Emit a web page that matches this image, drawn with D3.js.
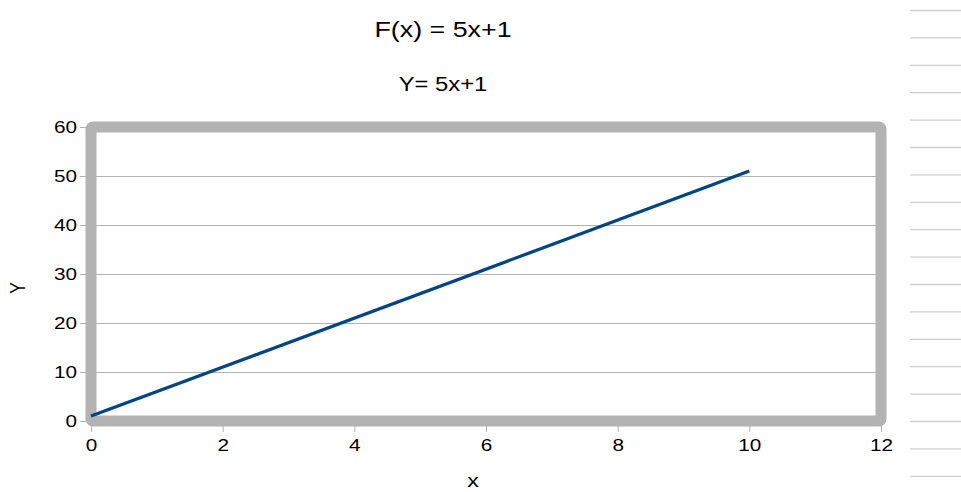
<!DOCTYPE html>
<html>
<head>
<meta charset="utf-8">
<script src="https://cdn.jsdelivr.net/npm/d3@7"></script>
<style>
  html, body { margin: 0; padding: 0; background: #fff; }
  svg { display: block; font-family: "Liberation Sans", Arial, sans-serif; }
</style>
</head>
<body>
<svg id="chart" width="961" height="492"></svg>
<script>
// series: y = 5x + 1
const xValues = [0, 10];
const yValues = [1, 51];
const xTicks = [0, 2, 4, 6, 8, 10, 12];
const yTicks = [0, 10, 20, 30, 40, 50, 60];
const titleText = 'F(x) = 5x+1';
const subtitleText = 'Y= 5x+1';
const xTitle = 'x';
const yTitle = 'Y';

// the original render is a bit wide, text gets stretched horizontally
const stretch = 'scale(1.22,1)';

const svg = d3.select('#chart');

const x = d3.scaleLinear().domain([0, 12]).range([91, 881]);
const y = d3.scaleLinear().domain([0, 60]).range([421, 127]);

// spreadsheet cell borders at the right edge
svg.append('g')
    .selectAll('line')
    .data(d3.range(18))
    .enter().append('line')
    .attr('x1', 910).attr('x2', 961)
    .attr('y1', function (d) { return 10.5 + d * 27.4; })
    .attr('y2', function (d) { return 10.5 + d * 27.4; })
    .style('stroke', '#cfcfcf')
    .style('stroke-width', 1.3);

// titles
svg.append('text')
    .attr('transform', 'translate(443,37) ' + stretch)
    .attr('text-anchor', 'middle')
    .style('font-size', '22px')
    .style('fill', '#000')
    .text(titleText);
svg.append('text')
    .attr('transform', 'translate(443,91) ' + stretch)
    .attr('text-anchor', 'middle')
    .style('font-size', '19.5px')
    .style('fill', '#000')
    .text(subtitleText);

// grid lines
svg.append('g')
    .selectAll('line')
    .data(yTicks.slice(1, -1))
    .enter().append('line')
    .attr('x1', x(0)).attr('x2', x(12))
    .attr('y1', function (d) { return Math.round(y(d)) + 0.5; })
    .attr('y2', function (d) { return Math.round(y(d)) + 0.5; })
    .style('stroke', '#b3b3b3')
    .style('stroke-width', 1);

// axes (ticks + labels)
let yAxis = d3.axisLeft(y).tickValues(yTicks).tickSize(11).tickPadding(3);
let xAxis = d3.axisBottom(x).tickValues(xTicks).tickSize(11).tickPadding(7);

let gy = svg.append('g').attr('transform', 'translate(' + x(0) + ',0)').call(yAxis);
let gx = svg.append('g').attr('transform', 'translate(0,' + y(0) + ')').call(xAxis);
[gy, gx].forEach(function (g) {
    g.select('.domain').remove();
    g.selectAll('line').style('stroke', '#b3b3b3').style('stroke-width', 1);
    g.selectAll('text').style('font-size', '17px').style('fill', '#000')
        .style('font-family', '"Liberation Sans", Arial, sans-serif');
});
gy.selectAll('text').attr('x', 0).attr('transform', 'translate(-14,0) ' + stretch);
gx.selectAll('text').attr('transform', stretch);

// thick frame around plot area
svg.append('rect')
    .attr('x', x(0)).attr('y', y(60))
    .attr('width', x(12) - x(0))
    .attr('height', y(0) - y(60))
    .attr('rx', 2)
    .style('fill', 'none')
    .style('stroke', '#b3b3b3')
    .style('stroke-width', 11)
    .style('stroke-linejoin', 'round');

// the line
let line = d3.line()
    .x(function (d) { return x(d[0]); })
    .y(function (d) { return y(d[1]); });
svg.append('path')
    .datum(d3.zip(xValues, yValues))
    .attr('d', line)
    .style('fill', 'none')
    .style('stroke', '#004586')
    .style('stroke-width', 3.2);

// axis titles
svg.append('text')
    .attr('transform', 'translate(25,288) ' + stretch + ' rotate(-90)')
    .attr('text-anchor', 'middle')
    .style('font-size', '18px')
    .style('fill', '#000')
    .text(yTitle);
svg.append('text')
    .attr('transform', 'translate(473,487) ' + stretch)
    .attr('text-anchor', 'middle')
    .style('font-size', '19px')
    .style('fill', '#000')
    .text(xTitle);
</script>
</body>
</html>
